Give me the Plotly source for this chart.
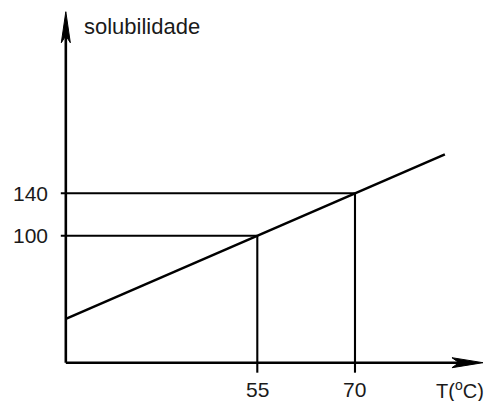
import plotly.graph_objects as go

# ---- data ----
line_T = [25.6, 83.8]          # temperature (°C) at the ends of the solubility line
line_S = [21.6, 176.8]         # solubility at the ends of the line
marked_T = [55, 70]            # marked temperatures
marked_S = [100, 140]          # marked solubilities
x_tick_labels = ["55", "70"]
y_tick_labels = ["100", "140"]
x_title = "T(<sup>o</sup>C)"
y_title = "solubilidade"

# axis frame (schematic origin and arrow tips), in data units
origin_T, origin_S = 25.6, -19.8
x_axis_end_T = 89.65
y_axis_end_S = 311.3

# ---- scale: pixels per data unit (layout only) ----
W, H = 492, 401
px_per_T = 6.513
px_per_S = 1.06
x_range = [55 - 257.3 / px_per_T, 55 + (W - 257.3) / px_per_T]
y_range = [100 - (H - 235.7) / px_per_S, 100 + 235.7 / px_per_S]
dT = 1 / px_per_T
dS = 1 / px_per_S

BLACK = "#000000"
TXT = "#1a1a1a"
FONT = "Arial, Liberation Sans, sans-serif"

fig = go.Figure()

# guide lines (dropped lines from the marked points)
gx, gy = [], []
for t, s in zip(marked_T, marked_S):
    gx += [origin_T - 5 * dT, t, None]
    gy += [s, s, None]
    gx += [t, t, None]
    gy += [s, origin_S - 10 * dS, None]
fig.add_trace(go.Scatter(x=gx, y=gy, mode="lines",
                         line=dict(color=BLACK, width=2.1), hoverinfo="skip"))

# axes
fig.add_trace(go.Scatter(x=[origin_T, origin_T, None, origin_T, x_axis_end_T - 20 * dT],
                         y=[y_axis_end_S - 20 * dS, origin_S, None, origin_S, origin_S],
                         mode="lines", line=dict(color=BLACK, width=2.6), hoverinfo="skip"))

# arrow heads
ax_head_T = [x_axis_end_T, x_axis_end_T - 31 * dT, x_axis_end_T - 24 * dT,
             x_axis_end_T - 31 * dT, x_axis_end_T]
ax_head_S = [origin_S, origin_S + 5 * dS, origin_S, origin_S - 5 * dS, origin_S]
fig.add_trace(go.Scatter(x=ax_head_T, y=ax_head_S, mode="lines", fill="toself",
                         fillcolor=BLACK, line=dict(color=BLACK, width=1), hoverinfo="skip"))
ay_head_T = [origin_T, origin_T - 4.5 * dT, origin_T, origin_T + 4.5 * dT, origin_T]
ay_head_S = [y_axis_end_S, y_axis_end_S - 31 * dS, y_axis_end_S - 24 * dS,
             y_axis_end_S - 31 * dS, y_axis_end_S]
fig.add_trace(go.Scatter(x=ay_head_T, y=ay_head_S, mode="lines", fill="toself",
                         fillcolor=BLACK, line=dict(color=BLACK, width=1), hoverinfo="skip"))

# solubility line
fig.add_trace(go.Scatter(x=line_T, y=line_S, mode="lines",
                         line=dict(color=BLACK, width=2.5), hoverinfo="skip"))

annotations = []
for t, lab in zip(marked_T, x_tick_labels):
    annotations.append(dict(x=t, y=origin_S, text=lab, showarrow=False,
                            xanchor="center", yanchor="middle", yshift=-27,
                            font=dict(family=FONT, size=21, color=TXT)))
for s, lab in zip(marked_S, y_tick_labels):
    annotations.append(dict(x=origin_T, y=s, text=lab, showarrow=False,
                            xanchor="right", yanchor="middle", xshift=-16,
                            font=dict(family=FONT, size=21, color=TXT)))
annotations.append(dict(x=x_axis_end_T, y=origin_S, text=x_title, showarrow=False,
                        xanchor="right", yanchor="middle", xshift=3, yshift=-27,
                        font=dict(family=FONT, size=20, color=TXT)))
annotations.append(dict(x=origin_T, y=y_axis_end_S, text=y_title, showarrow=False,
                        xanchor="left", yanchor="middle", xshift=16, yshift=-15,
                        font=dict(family=FONT, size=22, color=TXT)))

fig.update_layout(
    width=W, height=H,
    margin=dict(l=0, r=0, t=0, b=0),
    paper_bgcolor="white", plot_bgcolor="white",
    showlegend=False,
    xaxis=dict(range=x_range, visible=False, fixedrange=True),
    yaxis=dict(range=y_range, visible=False, fixedrange=True),
    annotations=annotations,
)

fig.write_html("out.html", config={"displayModeBar": False},
               post_script="document.body.style.margin='0px';"
                           "document.body.style.overflow='hidden';")
